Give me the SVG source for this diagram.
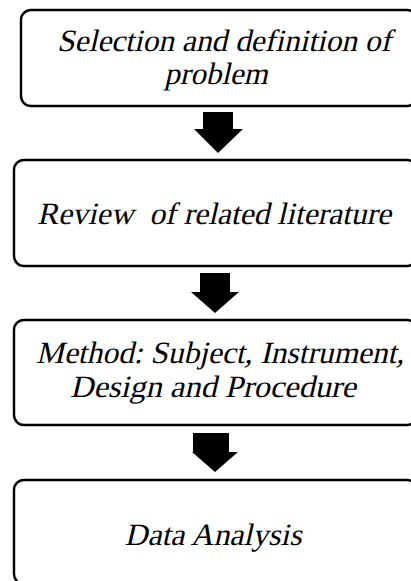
<svg xmlns="http://www.w3.org/2000/svg" width="411" height="581" viewBox="0 0 411 581">
<style>
.box{fill:#fff;stroke:#000;stroke-width:2.4}
text{font-family:'Liberation Serif','Times New Roman',serif;font-size:31px;fill:#000;text-anchor:middle}
.arr{fill:#000}
</style>
<rect width="411" height="581" fill="#fff"/>
<g id="node1">
<rect class="box" x="21" y="10" width="396" height="96" rx="10"/>
<text transform="translate(224,51) skewX(-13)" textLength="334" lengthAdjust="spacingAndGlyphs">Selection and definition of</text>
<text transform="translate(216,84) skewX(-13)">problem</text>
</g>
<g id="node2">
<rect class="box" x="14" y="160" width="403" height="106" rx="10"/>
<text transform="translate(214,224) skewX(-13)" textLength="354" lengthAdjust="spacingAndGlyphs" xml:space="preserve">Review  of related literature</text>
</g>
<g id="node3">
<rect class="box" x="14" y="320" width="403" height="105" rx="10"/>
<text transform="translate(220,363) skewX(-13)" textLength="368" lengthAdjust="spacingAndGlyphs">Method: Subject, Instrument,</text>
<text transform="translate(213,397) skewX(-13)" textLength="286" lengthAdjust="spacingAndGlyphs">Design and Procedure</text>
</g>
<g id="node4">
<rect class="box" x="14" y="480" width="403" height="104" rx="10"/>
<text transform="translate(213,545) skewX(-13)" textLength="177" lengthAdjust="spacingAndGlyphs">Data Analysis</text>
</g>
<g id="connectors">
<polygon class="arr" points="203,112 233,112 233,129 243,129 218,153 194,129 203,129"/>
<polygon class="arr" points="200,273 230,273 230,292 239,292 215,313 191,292 200,292"/>
<polygon class="arr" points="193,433 229,433 229,452 238,452 215,472 192,452 193,452"/>
</g>
</svg>
